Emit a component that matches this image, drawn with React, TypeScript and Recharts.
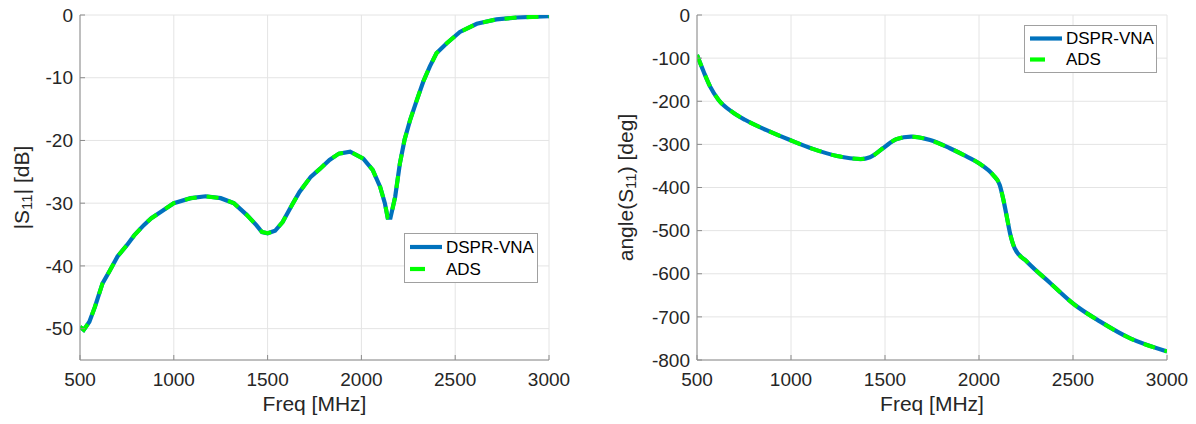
import React from "react"
import { CartesianGrid, Legend, Line, LineChart, XAxis, YAxis } from "recharts"

// frequency axis shared by both plots
const freqTicks = [500, 1000, 1500, 2000, 2500, 3000]

// |S11| magnitude (dB)
const magFreq = [500, 520, 550, 580, 620, 660, 700, 750, 790, 840, 880, 930, 1000, 1090, 1170, 1250, 1320, 1390, 1440, 1470, 1500, 1540, 1580, 1630, 1670, 1730, 1780, 1830, 1880, 1940, 2010, 2060, 2100, 2125, 2140, 2155, 2180, 2205, 2230, 2260, 2295, 2330, 2365, 2400, 2455, 2525, 2615, 2720, 2830, 3000]
const magDbVna = [-49.7, -50.2, -48.9, -46.5, -42.8, -40.7, -38.5, -36.7, -35.1, -33.5, -32.4, -31.4, -30.0, -29.2, -28.9, -29.2, -30.0, -31.9, -33.5, -34.6, -34.8, -34.4, -33.0, -30.3, -28.2, -25.8, -24.5, -23.1, -22.1, -21.8, -22.9, -24.7, -27.4, -30.0, -32.3, -32.3, -29.0, -23.7, -19.9, -16.7, -13.6, -10.6, -8.2, -6.1, -4.5, -2.7, -1.4, -0.7, -0.4, -0.2]
// ADS simulation sits right on top of the measurement
const magDbAds = [...magDbVna]
const magTicks = [-50, -40, -30, -20, -10, 0]

// angle(S11) (deg)
const phaseFreq = [500, 535, 570, 615, 685, 755, 870, 995, 1120, 1245, 1370, 1420, 1495, 1560, 1640, 1740, 1845, 1920, 2000, 2075, 2110, 2130, 2148, 2165, 2190, 2255, 2380, 2500, 2645, 2805, 3000]
const phaseDegVna = [-93, -131, -166, -197, -224, -243, -267, -290, -311, -327, -334, -330, -307, -288, -282, -290, -309, -325, -344, -371, -394, -429, -468, -506, -541, -572, -622, -669, -711, -750, -780]
const phaseDegAds = [...phaseDegVna]
const phaseTicks = [-800, -700, -600, -500, -400, -300, -200, -100, 0]

const seriesOrder = ["DSPR-VNA", "ADS"]

const BLUE = "#0072BD"
const GREEN = "#00FF00"
const AXIS = "#8c8c8c"
const TEXT = "#262626"
const FONT = '"Liberation Sans", Arial, Helvetica, sans-serif'
const ADS_DASH = "12 10"

const magData = magFreq.map((f, i) => ({ f, vna: magDbVna[i], ads: magDbAds[i] }))
const phaseData = phaseFreq.map((f, i) => ({ f, vna: phaseDegVna[i], ads: phaseDegAds[i] }))

// legend swatch only fits one dash, like the matlab legend
const dashByName: Record<string, string | undefined> = { "DSPR-VNA": undefined, ADS: "15 30" }

function LegendBox({ payload, rowHeight }: any) {
    const items = [...(payload || [])].sort((a: any, b: any) => seriesOrder.indexOf(a.value) - seriesOrder.indexOf(b.value))
    return (
        <div style={{ border: "1px solid #a0a0a0", background: "#fff", padding: "2px 0", boxSizing: "border-box" }}>
            {items.map((entry: any) => (
                <div key={entry.value} style={{ display: "flex", alignItems: "center", height: rowHeight }}>
                    <svg width={42} height={rowHeight} style={{ flex: "none" }}>
                        <line x1={5} x2={37} y1={rowHeight / 2} y2={rowHeight / 2} stroke={entry.color} strokeWidth={4.2}
                            strokeDasharray={dashByName[entry.value]} />
                    </svg>
                    <span style={{ fontSize: 17, color: "#000", lineHeight: 1, marginLeft: -1 }}>{entry.value}</span>
                </div>
            ))}
        </div>
    )
}

function YTitle({ viewBox, cx, parts }: any) {
    const cy = viewBox.y + viewBox.height / 2
    return (
        <text x={cx} y={cy} transform={`rotate(-90, ${cx}, ${cy})`} textAnchor="middle" dominantBaseline="central"
            fill={TEXT} fontSize={21}>
            <tspan>{parts[0]}</tspan>
            <tspan fontSize={15} dy={5}>11</tspan>
            <tspan dy={-5}>{parts[1]}</tspan>
        </text>
    )
}

function XTitle({ viewBox }: any) {
    return (
        <text x={viewBox.x + viewBox.width / 2} y={viewBox.y + 51} textAnchor="middle" fill={TEXT} fontSize={21}>
            Freq [MHz]
        </text>
    )
}

interface PanelProps {
    data: { f: number; vna: number; ads: number }[]
    yDomain: [number, number]
    yTicks: number[]
    leftWidth: number
    rightMargin: number
    titleX: number
    titleParts: [string, string]
    lineType: "linear" | "monotone"
    legendPos: { left: number; top: number; width: number; height: number; row: number }
}

function Panel({ data, yDomain, yTicks, leftWidth, rightMargin, titleX, titleParts, lineType, legendPos }: PanelProps) {
    const blank = () => ""
    return (
        <LineChart width={598} height={424} data={data} margin={{ top: 15, right: rightMargin, bottom: 0, left: 0 }}>
            <CartesianGrid stroke="#e4e4e4" strokeWidth={1} />
            <XAxis dataKey="f" type="number" domain={[500, 3000]} ticks={freqTicks} height={64} allowDataOverflow
                stroke={AXIS} tickSize={-5} tickMargin={17.5} tick={{ fill: TEXT, fontSize: 19 }}
                label={<XTitle />} />
            <XAxis xAxisId="top" orientation="top" dataKey="f" type="number" domain={[500, 3000]} ticks={freqTicks}
                height={0} stroke={AXIS} tickSize={-5} tickFormatter={blank} />
            <YAxis type="number" domain={yDomain} ticks={yTicks} width={leftWidth} allowDataOverflow
                stroke={AXIS} tickSize={-5} tickMargin={12} tick={{ fill: TEXT, fontSize: 19 }}
                label={<YTitle cx={titleX} parts={titleParts} />} />
            <YAxis yAxisId="right" orientation="right" type="number" domain={yDomain} ticks={yTicks} width={0}
                stroke={AXIS} tickSize={-5} tickFormatter={blank} />
            <Legend layout="horizontal" verticalAlign="middle" align="center"
                wrapperStyle={{ left: legendPos.left, top: legendPos.top, width: legendPos.width, height: legendPos.height }}
                content={(props: any) => <LegendBox {...props} rowHeight={legendPos.row} />} />
            <Line type={lineType} dataKey="vna" name="DSPR-VNA" stroke={BLUE} strokeWidth={4.2} dot={false}
                isAnimationActive={false} />
            <Line type={lineType} dataKey="ads" name="ADS" stroke={GREEN} strokeWidth={4} strokeDasharray={ADS_DASH}
                dot={false} isAnimationActive={false} />
        </LineChart>
    )
}

export default function App() {
    return (
        <div style={{ position: "absolute", left: 0, top: 0, width: 1196, height: 424, background: "#fff", fontFamily: FONT }}>
            <div style={{ position: "absolute", left: 0, top: 0 }}>
                <Panel data={magData} yDomain={[-55, 0]} yTicks={magTicks} leftWidth={80} rightMargin={49}
                    titleX={21} titleParts={["|S", "| [dB]"]} lineType="linear"
                    legendPos={{ left: 404, top: 233, width: 134, height: 48, row: 22 }} />
            </div>
            <div style={{ position: "absolute", left: 598, top: 0 }}>
                <Panel data={phaseData} yDomain={[-800, 0]} yTicks={phaseTicks} leftWidth={99} rightMargin={29}
                    titleX={27} titleParts={["angle(S", ") [deg]"]} lineType="monotone"
                    legendPos={{ left: 426, top: 25, width: 133, height: 46, row: 21 }} />
            </div>
        </div>
    )
}
